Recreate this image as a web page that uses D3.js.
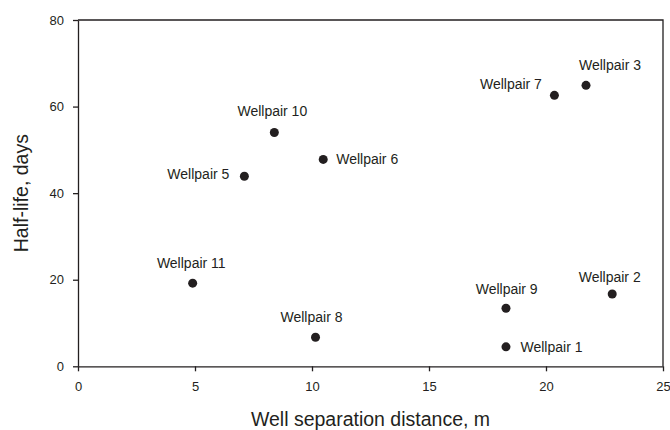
<!DOCTYPE html>
<html>
<head>
<meta charset="utf-8">
<script src="https://cdn.jsdelivr.net/npm/d3@7"></script>
<style>
  html, body { margin: 0; padding: 0; background: #fff; }
  svg { display: block; font-family: Arial, "Liberation Sans", sans-serif; }
</style>
</head>
<body>
<svg id="chart" width="670" height="430"></svg>
<script>
// ---- data ----
const wellpairs = ["Wellpair 1", "Wellpair 2", "Wellpair 3", "Wellpair 5", "Wellpair 6",
                   "Wellpair 7", "Wellpair 8", "Wellpair 9", "Wellpair 10", "Wellpair 11"];
const separation = [18.29, 22.83, 21.71, 7.11, 10.48, 20.36, 10.15, 18.29, 8.39, 4.90];
const halfLife   = [4.5, 16.7, 64.9, 43.9, 47.8, 62.6, 6.7, 13.4, 54.0, 19.2];
const xTicks = [0, 5, 10, 15, 20, 25];
const yTicks = [0, 20, 40, 60, 80];
const xTitle = "Well separation distance, m";
const yTitle = "Half-life, days";

// ---- layout ----
const ink = "#231f20";
const mLeft = 78, mRight = 663, mTop = 20, mBottom = 366.3;
const svg = d3.select("#chart");

const x = d3.scaleLinear().domain([0, 25]).range([mLeft, mRight]);
const y = d3.scaleLinear().domain([0, 80]).range([mBottom, mTop]);

// frame (top and right)
svg.append("path")
  .attr("d", `M${mLeft},${mTop}H${mRight}V${mBottom}`)
  .attr("fill", "none").attr("stroke", ink).attr("stroke-width", 1.3);

// axes
const xAxis = svg.append("g").attr("transform", `translate(0,${mBottom})`)
  .call(d3.axisBottom(x).tickValues(xTicks).tickSize(5).tickPadding(10).tickSizeOuter(0).tickFormat(d3.format("d")));
const yAxis = svg.append("g").attr("transform", `translate(${mLeft},0)`)
  .call(d3.axisLeft(y).tickValues(yTicks).tickSize(5).tickPadding(9).tickSizeOuter(0).tickFormat(d3.format("d")));

[xAxis, yAxis].forEach(g => {
  g.select(".domain").attr("stroke", ink).attr("stroke-width", 1.3);
  g.selectAll(".tick line").attr("stroke", ink).attr("stroke-width", 1.3);
  g.selectAll(".tick text").attr("fill", ink).style("font-size", "13px")
    .style("font-family", "Arial, 'Liberation Sans', sans-serif");
});

// axis titles
svg.append("text")
  .attr("x", (mLeft + mRight) / 2).attr("y", 426)
  .attr("text-anchor", "middle").attr("fill", ink)
  .style("font-size", "19.5px").text(xTitle);
svg.append("text")
  .attr("transform", `translate(28,${(mTop + mBottom) / 2}) rotate(-90)`)
  .attr("text-anchor", "middle").attr("fill", ink)
  .style("font-size", "19.5px").text(yTitle);

// label placement (layout only)
const place = {
  "Wellpair 1":  {a: "start",  dx: 14.5, dy: 5},
  "Wellpair 2":  {a: "middle", dx: -2.5, dy: -12.5},
  "Wellpair 3":  {a: "middle", dx: 24,   dy: -15.5},
  "Wellpair 5":  {a: "end",    dx: -15,  dy: 2.5},
  "Wellpair 6":  {a: "start",  dx: 13,   dy: 5},
  "Wellpair 7":  {a: "end",    dx: -12.5, dy: -6},
  "Wellpair 8":  {a: "middle", dx: -4,   dy: -15.5},
  "Wellpair 9":  {a: "middle", dx: 0.7,  dy: -14.5},
  "Wellpair 10": {a: "middle", dx: -2,   dy: -17},
  "Wellpair 11": {a: "middle", dx: -1.4, dy: -15}
};

const pts = wellpairs.map((n, i) => ({name: n, sx: separation[i], hl: halfLife[i]}));

svg.append("g").selectAll("circle").data(pts).join("circle")
  .attr("cx", d => x(d.sx)).attr("cy", d => y(d.hl))
  .attr("r", 4.5).attr("fill", ink);

svg.append("g").selectAll("text").data(pts).join("text")
  .attr("x", d => x(d.sx) + place[d.name].dx)
  .attr("y", d => y(d.hl) + place[d.name].dy)
  .attr("text-anchor", d => place[d.name].a)
  .attr("fill", ink).style("font-size", "14px")
  .text(d => d.name);
</script>
</body>
</html>
